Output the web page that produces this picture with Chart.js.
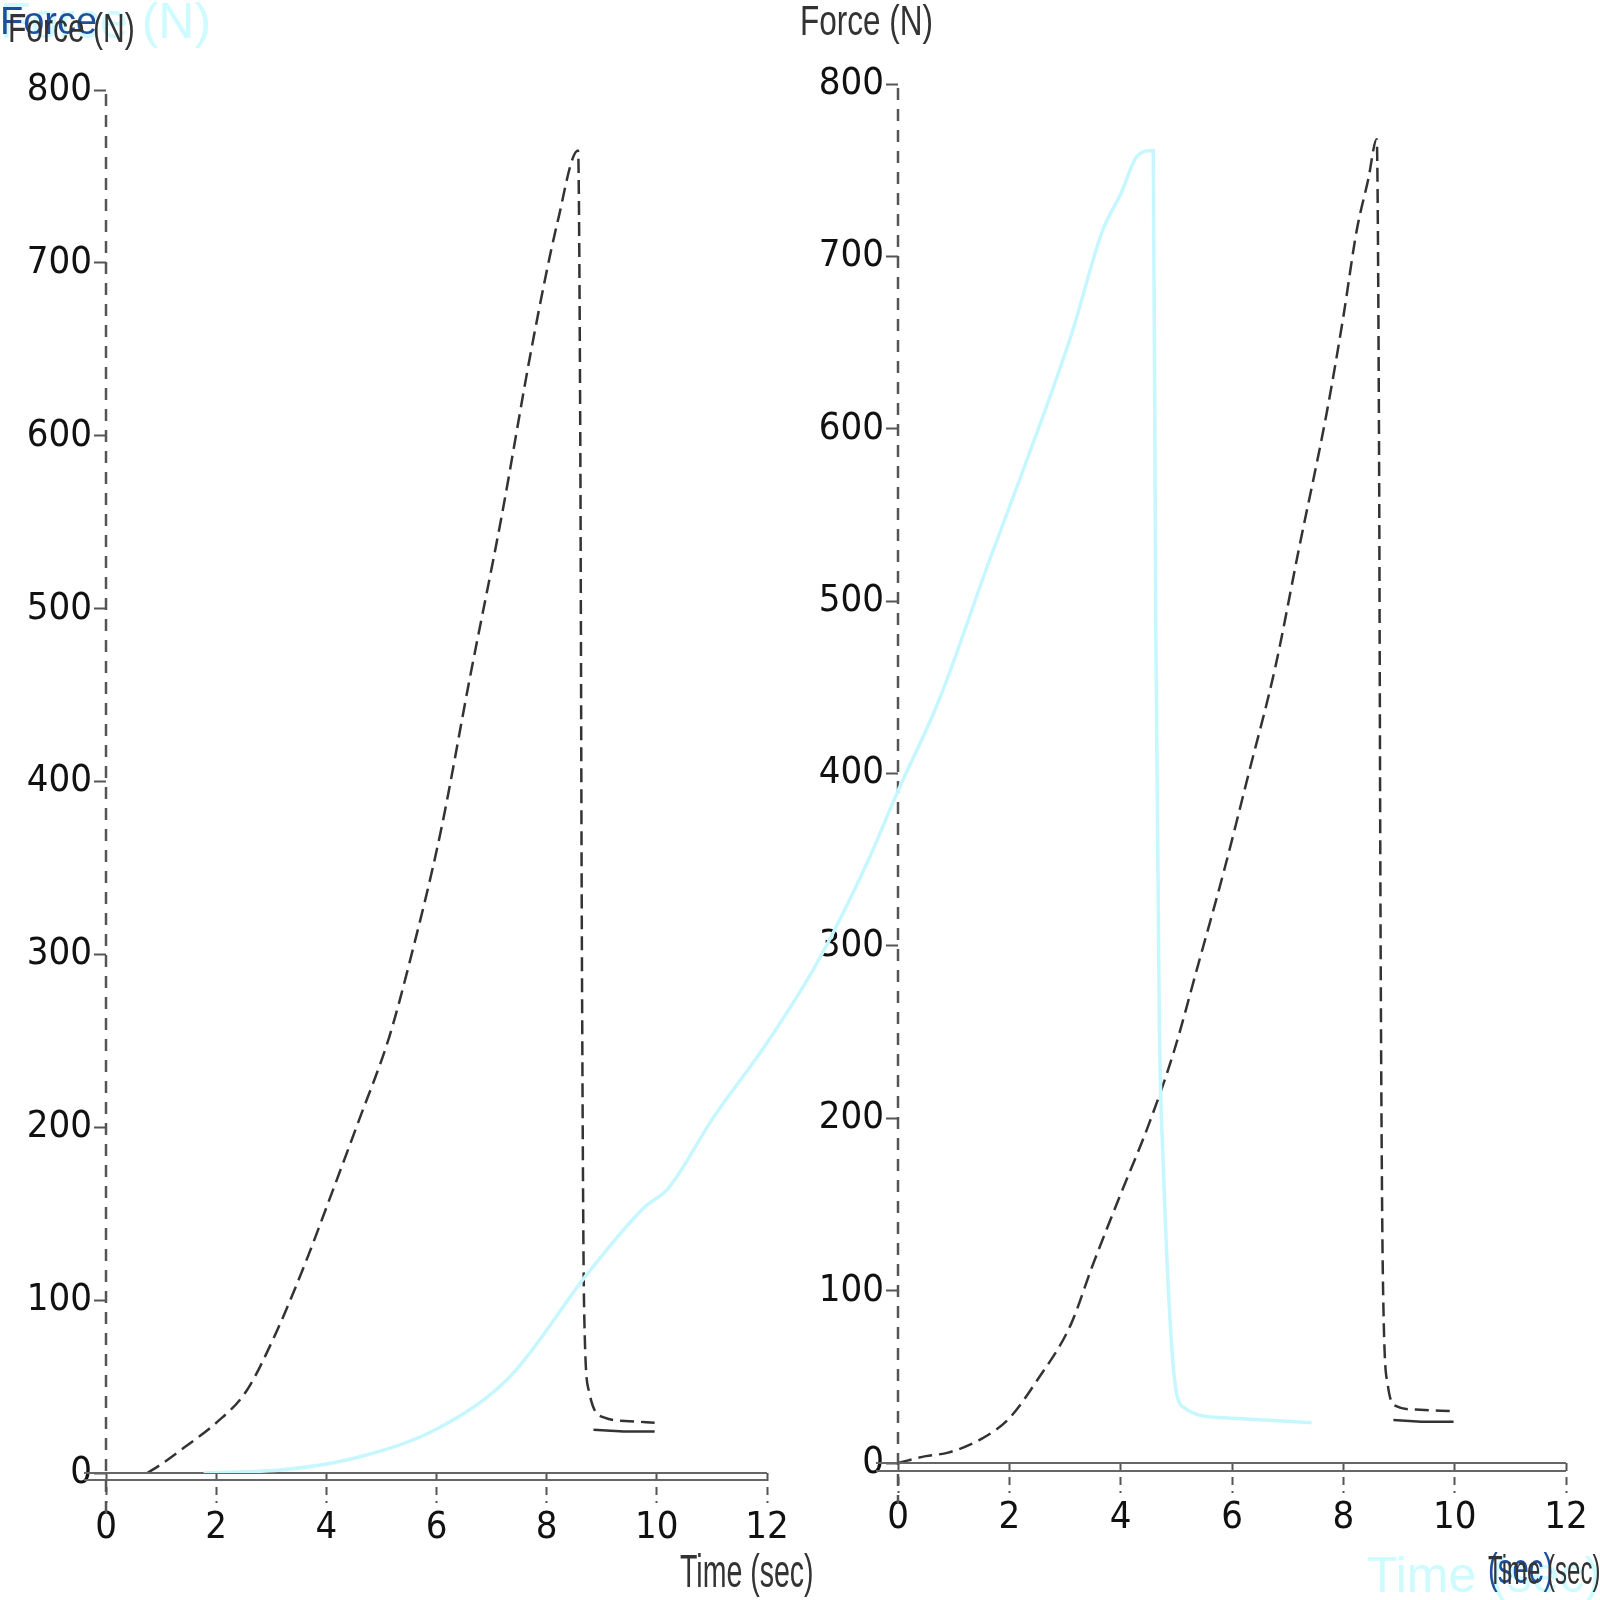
<!DOCTYPE html>
<html>
<head>
<meta charset="utf-8">
<script src="https://cdn.jsdelivr.net/npm/chart.js@4.4.1/dist/chart.umd.min.js"></script>
<style>
  html, body { margin: 0; padding: 0; background: #fff; }
  #wrap { position: relative; width: 1600px; height: 1600px; overflow: hidden; font-family: 'Liberation Sans', Arial, sans-serif; }
  canvas { position: absolute; top: 0; }
  .lbl { position: absolute; white-space: nowrap; line-height: 1; }
</style>
</head>
<body>
<div id="wrap">
  <canvas id="leftChart" style="left:0" width="800" height="1600"></canvas>
  <canvas id="rightChart" style="left:800px" width="800" height="1600"></canvas>
  <canvas id="cyanChart" style="left:0" width="1600" height="1600"></canvas>

  <div class="lbl" style="left:0;top:-4px;font-size:50px;color:#cdfbff">Force (N)</div>
  <div class="lbl" style="left:0;top:2px;font-size:38px;color:#1f4e9c">Force</div>
  <div class="lbl" style="left:8px;top:8px;font-size:40px;color:#333;transform:scaleX(0.75);transform-origin:left">Force (N)</div>
  <div class="lbl" style="left:800px;top:0;font-size:42px;color:#333;transform:scaleX(0.75);transform-origin:left">Force (N)</div>
  <div class="lbl" style="left:680px;top:1548px;font-size:46px;color:#333;transform:scaleX(0.62);transform-origin:left">Time (sec)</div>
  <div class="lbl" style="left:1367px;top:1550px;font-size:50px;color:#cdfbff">Time (sec)</div>
  <div class="lbl" style="left:1488px;top:1548px;font-size:42px;color:#1f4e9c;transform:scaleX(0.7);transform-origin:left">(sec)</div>
  <div class="lbl" style="left:1488px;top:1550px;font-size:40px;color:#333;transform:scaleX(0.6);transform-origin:left">Time (sec)</div>
</div>

<script>
// ---- data ----
const xTicks = [0, 2, 4, 6, 8, 10, 12];
const yTicks = [0, 100, 200, 300, 400, 500, 600, 700, 800];

// left panel, force vs time
const leftTime  = [0.75, 1.0, 1.43, 2.0, 2.54, 3.1, 3.65, 4.03, 4.58, 5.14, 5.5, 6.07, 6.6, 7.18, 7.74, 8.2, 8.57, 8.61, 8.64, 8.68, 8.77, 9.05, 9.5, 9.96];
const leftForce = [0, 5, 15, 29, 47, 82, 124, 156, 203, 252, 294, 370, 459, 553, 653, 724, 765, 600, 300, 95, 47, 32, 30, 29];
const leftTailTime  = [8.85, 9.4, 9.96];
const leftTailForce = [25, 24, 24];

// right panel, force vs time
const rightTime  = [0, 0.5, 0.9, 1.5, 2.0, 2.5, 3.1, 3.5, 4.0, 4.5, 4.95, 5.4, 5.86, 6.3, 6.78, 7.2, 7.7, 8.0, 8.24, 8.45, 8.6, 8.64, 8.67, 8.71, 8.8, 8.95, 9.3, 9.98];
const rightForce = [0, 4, 6, 14, 26, 48, 80, 115, 156, 196, 238, 290, 344, 400, 462, 530, 609, 665, 715, 745, 768, 600, 300, 109, 45, 33, 31, 30];
const rightTailTime  = [8.9, 9.4, 9.98];
const rightTailForce = [25, 24, 24];

// light cyan trace stretched across the page
const cyanTime  = [0.81, 1.48, 2.07, 2.74, 3.33, 3.96, 4.42, 4.63, 5.0, 5.42, 5.84, 6.26, 6.51, 6.85, 7.27, 7.52, 7.94, 8.19, 8.35, 8.48, 8.61, 8.63, 8.66, 8.69, 8.77, 8.86, 9.19, 9.91];
const cyanForce = [0, 2, 9, 26, 56, 115, 153, 165, 206, 247, 294, 353, 394, 447, 529, 576, 659, 718, 741, 762, 765, 494, 259, 182, 65, 38, 32, 29];

function toPoints(xs, ys) {
    return xs.map((x, i) => ({ x: x, y: ys[i] }));
}

const tickFont = { family: "'DejaVu Sans Condensed', 'Liberation Sans Narrow', 'Liberation Sans', sans-serif", size: 38 };

// double rule under the plot and the dashed y axis running past it
const axisLines = {
    id: 'axisLines',
    afterDraw(chart, args, opts) {
        const ctx = chart.ctx;
        const a = chart.chartArea;
        ctx.save();
        ctx.strokeStyle = '#666';
        ctx.lineWidth = 2;
        ctx.beginPath();
        ctx.moveTo(a.left - 22, a.bottom);
        ctx.lineTo(a.right, a.bottom);
        ctx.moveTo(a.left - 22, a.bottom + opts.gap);
        ctx.lineTo(a.right, a.bottom + opts.gap);
        ctx.stroke();
        ctx.strokeStyle = '#555';
        ctx.lineWidth = 2.5;
        ctx.setLineDash([12, 9]);
        ctx.beginPath();
        ctx.moveTo(a.left, a.top + 4);
        ctx.lineTo(a.left, a.bottom + 40);
        ctx.stroke();
        ctx.restore();
    }
};

function makePanel(id, time, force, tailTime, tailForce, axisW, axisH, top, right, gap) {
    const ctx = document.getElementById(id).getContext('2d');
    new Chart(ctx, {
        type: 'line',
        data: {
            datasets: [{
                data: toPoints(time, force),
                borderColor: '#333',
                borderWidth: 2.5,
                borderDash: [14, 7],
                pointRadius: 0,
                cubicInterpolationMode: 'monotone'
            }, {
                data: toPoints(tailTime, tailForce),
                borderColor: '#333',
                borderWidth: 2.5,
                pointRadius: 0
            }]
        },
        options: {
            responsive: false,
            animation: false,
            layout: { padding: { top: top, right: right, left: 0, bottom: 0 } },
            plugins: { legend: { display: false }, tooltip: { enabled: false }, axisLines: { gap: gap } },
            scales: {
                x: {
                    type: 'linear',
                    min: 0, max: 12,
                    afterBuildTicks: s => { s.ticks = xTicks.map(v => ({ value: v })); },
                    afterFit: s => { s.height = axisH; },
                    ticks: { color: '#111', font: tickFont, padding: 2, maxRotation: 0 },
                    grid: { drawOnChartArea: false, drawTicks: true, tickLength: 30, tickColor: '#555', tickWidth: 2, tickBorderDash: [8, 6] },
                    border: { display: false }
                },
                y: {
                    min: 0, max: 800,
                    afterBuildTicks: s => { s.ticks = yTicks.map(v => ({ value: v })); },
                    afterFit: s => { s.width = axisW; },
                    ticks: { color: '#111', font: tickFont, padding: 2 },
                    grid: { drawOnChartArea: false, tickLength: 12, tickColor: '#555', tickWidth: 2 },
                    border: { display: false }
                }
            }
        },
        plugins: [axisLines]
    });
}

function makeCyan() {
    const ctx = document.getElementById('cyanChart').getContext('2d');
    new Chart(ctx, {
        type: 'line',
        data: {
            datasets: [{
                data: toPoints(cyanTime, cyanForce),
                borderColor: '#c6f7ff',
                borderWidth: 3.5,
                pointRadius: 0,
                cubicInterpolationMode: 'monotone'
            }]
        },
        options: {
            responsive: false,
            animation: false,
            layout: { padding: { left: 105, right: 34, top: 90, bottom: 127 } },
            plugins: { legend: { display: false }, tooltip: { enabled: false } },
            scales: {
                x: { type: 'linear', min: 0, max: 12, display: false },
                y: { min: 0, max: 800, display: false }
            }
        }
    });
}

makePanel('leftChart', leftTime, leftForce, leftTailTime, leftTailForce, 106, 127, 90, 33, 7);
makePanel('rightChart', rightTime, rightForce, rightTailTime, rightTailForce, 98, 137, 84, 34, 8);
makeCyan();
</script>
</body>
</html>
